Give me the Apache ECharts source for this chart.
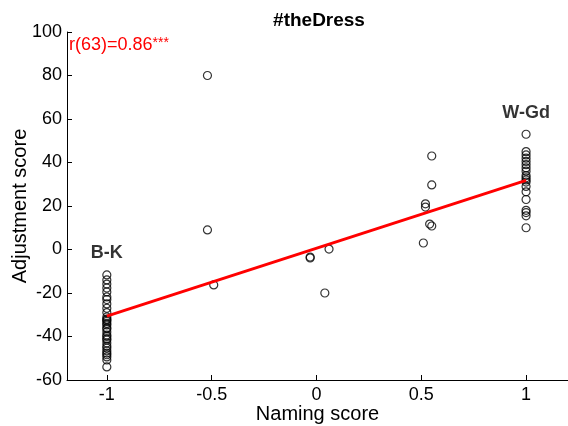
<!DOCTYPE html>
<html>
<head>
<meta charset="utf-8">
<script src="https://cdn.jsdelivr.net/npm/echarts@6/dist/echarts.min.js"></script>
<style>html,body{margin:0;padding:0;background:#fff}#c{width:568px;height:426px}</style>
</head>
<body>
<div id="c"></div>
<script>
// Data
var bkY = [-11.7, -14, -15.9, -17.7, -19.5, -21.8, -23, -25, -27, -29, -31, -32, -32.4, -33, -34, -34.7, -36, -36.5, -37.9, -39.3, -40, -41, -41.6, -43, -44.4, -45.3, -46.6, -47.6, -48.4, -49.4, -50.8, -54];
var wgdY = [53, 45, 43.5, 42, 40.5, 39, 37.5, 36, 34, 33, 32, 31, 29, 26.5, 23, 18, 17, 15.5, 10];
var middlePts = [[-0.52, 80], [-0.52, 9], [-0.49, -16.3], [-0.03, -3.9], [-0.03, -3.5], [0.06, 0.2], [0.04, -20],
  [0.55, 43], [0.55, 29.7], [0.52, 21], [0.52, 19.5], [0.54, 11.7], [0.55, 10.8], [0.51, 3]];
var fitLine = [[-1, -30.6], [1, 31.8]];
var groupLabels = [[-1, -1.5, 'B-K'], [1, 62.8, 'W-Gd']];
var xTicks = [-1, -0.5, 0, 0.5, 1];
var titleText = '#theDress';
var statText = 'r(63)=0.86';

var pts = [];
bkY.forEach(function (y) { pts.push([-1, y]); });
middlePts.forEach(function (p) { pts.push(p); });
wgdY.forEach(function (y) { pts.push([1, y]); });

var FONT = 'Liberation Sans';
var chart = echarts.init(document.getElementById('c'));
chart.setOption({
  animation: false,
  backgroundColor: '#fff',
  textStyle: { fontFamily: FONT },
  title: {
    text: titleText, left: 314, top: 6, textAlign: 'center',
    textStyle: { fontFamily: FONT, fontSize: 19, fontWeight: 'bold', color: '#000' }
  },
  grid: { left: 67, right: 0, top: 32, bottom: 46, containLabel: false, outerBoundsMode: 'none' },
  xAxis: {
    type: 'value', min: -1.19, max: 1.2,
    name: 'Naming score', nameLocation: 'middle', nameGap: 24, nameMoveOverlap: false,
    nameTextStyle: { fontFamily: FONT, fontSize: 20, color: '#000' },
    splitLine: { show: false },
    axisLine: { show: true, onZero: false, lineStyle: { color: '#000', width: 1 } },
    axisTick: { show: true, inside: true, length: 5, customValues: xTicks, lineStyle: { color: '#000' } },
    axisLabel: { customValues: xTicks, fontFamily: FONT, fontSize: 18, color: '#000', margin: 6 }
  },
  yAxis: {
    type: 'value', min: -60, max: 100, interval: 20,
    name: 'Adjustment score', nameLocation: 'middle', nameGap: 37, nameMoveOverlap: false,
    nameTextStyle: { fontFamily: FONT, fontSize: 20, color: '#000' },
    splitLine: { show: false },
    axisLine: { show: true, onZero: false, lineStyle: { color: '#000', width: 1 } },
    axisTick: { show: true, inside: true, length: 5, lineStyle: { color: '#000' } },
    axisLabel: { fontFamily: FONT, fontSize: 18, color: '#000', margin: 5 }
  },
  graphic: [{
    type: 'text', left: 69, top: 36,
    style: { text: '{a|' + statText + '}{b|***}', fill: '#ff0000',
      rich: { a: { fontFamily: FONT, fontSize: 18, fill: '#ff0000' }, b: { fontFamily: FONT, fontSize: 14, fill: '#ff0000', verticalAlign: 'top' } } }
  }],
  series: [
    {
      type: 'scatter', data: pts, symbol: 'circle', symbolSize: 8,
      itemStyle: { color: 'rgba(0,0,0,0)', borderColor: '#000', borderWidth: 1.2 }, z: 2
    },
    {
      type: 'line', data: fitLine, symbol: 'none',
      lineStyle: { color: '#ff0000', width: 3 }, z: 3
    },
    {
      type: 'scatter', data: groupLabels, symbolSize: 0,
      label: { show: true, position: 'inside', formatter: function (p) { return p.data[2]; },
        fontFamily: FONT, fontSize: 18, fontWeight: 'bold', color: '#000', textBorderWidth: 0 }, z: 4
    }
  ]
});
</script>
</body>
</html>
